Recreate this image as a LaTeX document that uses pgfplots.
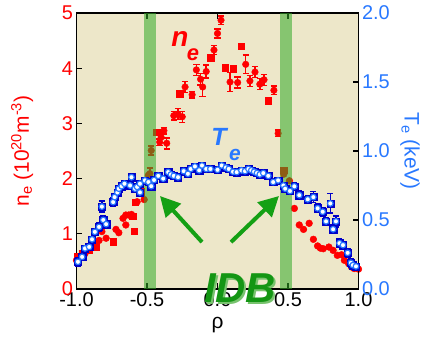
\documentclass[border=0pt]{standalone}
\usepackage{pgfplots}
\usepackage{pgfplotstable}
\pgfplotsset{compat=1.18}
\usepackage{fontspec}
\setmainfont{Liberation Sans}
\usetikzlibrary{arrows.meta}
\definecolor{bgc}{RGB}{237,231,201}
\definecolor{necol}{RGB}{255,0,0}
\definecolor{tecol}{RGB}{40,120,255}
\definecolor{tedark}{RGB}{0,0,200}
\definecolor{bandc}{RGB}{50,170,40}
\definecolor{idbc}{RGB}{20,150,20}
\definecolor{idbsh}{RGB}{120,195,110}
\definecolor{arrc}{RGB}{20,160,20}

% n_e points with error bars (rho, ne, err)
\pgfplotstableread{
x y e
0.025 4.87 0.08
0.0 4.63 0.08
-0.025 4.33 0.08
0.2 4.07 0.17
0.089 3.75 0.17
0.143 3.74 0.10
0.23 3.77 0.10
0.266 3.93 0.10
0.30 3.71 0.10
0.33 3.79 0.10
0.40 3.60 0.08
-0.15 3.97 0.10
-0.08 3.94 0.12
-0.12 3.80 0.10
-0.105 3.66 0.17
-0.23 3.66 0.10
-0.18 3.52 0.06
-0.31 3.14 0.08
-0.28 3.17 0.10
-0.25 3.12 0.10
-0.38 2.87 0.06
-0.40 2.75 0.10
-0.36 2.64 0.10
-0.41 2.66 0.06
-0.47 2.51 0.08
-0.48 2.09 0.10
0.43 2.82 0.06
}\neerr
% n_e square markers
\pgfplotstableread{
x y
-0.05 4.19
0.167 4.40
0.055 4.01
0.112 3.99
0.36 3.41
-0.27 3.54
-0.43 2.84
-0.54 1.76
-0.585 1.57
-0.59 1.05
-0.60 1.32
-0.74 0.86
-0.86 0.77
-0.91 0.70
-0.96 0.64
-0.99 0.58
0.47 2.15
}\nesq
% n_e circle markers
\pgfplotstableread{
x y
-0.49 2.06
-0.52 1.62
-0.57 1.58
-0.61 1.35
-0.63 1.34
-0.65 1.34
-0.67 1.28
-0.65 1.16
-0.72 1.08
-0.70 1.02
-0.79 0.92
-0.82 1.04
-0.84 0.88
-0.87 0.83
-0.90 0.78
-0.93 0.70
-0.94 0.64
-0.98 0.58
-1.0 0.52
0.47 2.08
0.51 1.96
0.545 1.46
0.58 1.16
0.61 1.08
0.65 1.19
0.68 0.90
0.71 0.78
0.73 0.74
0.75 0.73
0.79 0.76
0.82 0.70
0.85 0.61
0.88 0.62
0.90 0.52
0.93 0.46
0.95 0.40
0.97 0.37
1.0 0.36
}\necirc
% T_e (rho, Te, err)
\pgfplotstableread{
x y e
-0.99 0.197 0.03
-0.96 0.233 0.02
-0.94 0.294 0.02
-0.91 0.305 0.02
-0.89 0.36 0.02
-0.87 0.414 0.02
-0.84 0.45 0.03
-0.81 0.50 0.03
-0.79 0.47 0.02
-0.82 0.597 0.04
-0.74 0.63 0.03
-0.73 0.666 0.02
-0.71 0.70 0.02
-0.70 0.727 0.02
-0.68 0.745 0.02
-0.66 0.763 0.02
-0.62 0.75 0.02
-0.61 0.81 0.02
-0.585 0.727 0.02
-0.57 0.74 0.02
-0.55 0.70 0.02
-0.55 0.763 0.02
-0.515 0.787 0.02
-0.49 0.775 0.02
-0.47 0.745 0.02
-0.45 0.79 0.02
-0.42 0.82 0.02
-0.385 0.80 0.02
-0.35 0.847 0.02
-0.33 0.83 0.02
-0.31 0.82 0.02
-0.28 0.81 0.02
-0.24 0.854 0.02
-0.21 0.835 0.02
-0.19 0.87 0.02
-0.16 0.888 0.02
-0.13 0.86 0.02
-0.11 0.895 0.02
-0.08 0.87 0.02
-0.05 0.87 0.02
0.0 0.864 0.02
0.03 0.895 0.02
0.06 0.88 0.02
0.08 0.87 0.02
0.11 0.85 0.02
0.136 0.847 0.02
0.17 0.86 0.02
0.195 0.854 0.02
0.22 0.87 0.02
0.24 0.86 0.02
0.26 0.85 0.02
0.28 0.84 0.02
0.30 0.83 0.02
0.325 0.84 0.02
0.36 0.82 0.02
0.395 0.775 0.02
0.43 0.787 0.02
0.467 0.75 0.02
0.48 0.727 0.02
0.514 0.71 0.02
0.545 0.744 0.03
0.58 0.68 0.03
0.64 0.65 0.03
0.68 0.666 0.04
0.71 0.585 0.03
0.746 0.56 0.03
0.77 0.49 0.03
0.80 0.62 0.07
0.82 0.433 0.03
0.84 0.49 0.04
0.865 0.332 0.03
0.89 0.318 0.02
0.923 0.262 0.03
0.946 0.19 0.03
0.96 0.173 0.02
0.982 0.164 0.02
}\tedata

\begin{document}
\begin{tikzpicture}
\begin{axis}[name=ax, scale only axis, width=282bp, height=276bp,
  xmin=-1, xmax=1, ymin=0, ymax=5,
  axis background/.style={fill=bgc},
  axis line style={line width=1.6bp},
  xtick={-1,-0.5,0,0.5,1}, ytick={0,1,2,3,4,5},
  tick align=inside, major tick length=6bp,
  ytick pos=left, xtick pos=both,
  tick style={black, line width=1.2bp},
  /pgf/number format/assume math mode=true,
  xticklabel style={font=\fontsize{20}{20}\selectfont, /pgf/number format/fixed, /pgf/number format/fixed zerofill, /pgf/number format/precision=1},
  yticklabel style={font=\fontsize{20}{20}\selectfont, text=necol},
  xlabel={ρ}, xlabel style={font=\fontsize{21}{21}\selectfont, at={(rel axis cs:0.5,-0.13)}, anchor=center},
  ylabel={n\textsubscript{e} (10\textsuperscript{20}m\textsuperscript{-3})},
  ylabel style={font=\fontsize{21}{21}\selectfont, text=necol, at={(rel axis cs:-0.193,0.5)}, anchor=center},
]
\addplot[only marks, mark=*, mark size=3.3bp, color=necol,
  error bars/.cd, y dir=both, y explicit,
  error bar style={line width=1.5bp, color=necol},
  error mark options={rotate=90, mark size=3.2bp, line width=1.5bp, color=necol}]
  table[x=x, y=y, y error=e] {\neerr};
\addplot[only marks, mark=square*, mark size=3.3bp, color=necol] table[x=x, y=y] {\nesq};
\addplot[only marks, mark=*, mark size=3.4bp, color=necol] table[x=x, y=y] {\necirc};
\end{axis}
\begin{axis}[scale only axis, width=282bp, height=276bp,
  xmin=-1, xmax=1, ymin=0, ymax=2, clip=false,
  axis x line=none, axis y line*=right,
  axis line style={line width=1.6bp},
  ytick={0,0.5,1,1.5,2},
  tick align=inside, major tick length=6bp,
  tick style={black, line width=1.2bp},
  /pgf/number format/assume math mode=true,
  yticklabel style={font=\fontsize{20}{20}\selectfont, text=tecol, /pgf/number format/fixed, /pgf/number format/fixed zerofill, /pgf/number format/precision=1},
]
\addplot[only marks, mark=square*, mark size=3.6bp, color=tedark,
  error bars/.cd, y dir=both, y explicit,
  error bar style={line width=1.3bp, color=tedark},
  error mark options={rotate=90, mark size=3bp, line width=1.3bp, color=tedark}]
  table[x=x, y=y, y error=e] {\tedata};
\addplot[only marks, mark=*, mark size=2.8bp, mark options={fill=white, draw=tecol, line width=1.2bp}] table[x=x, y=y] {\tedata};
\fill[bandc, opacity=0.55] (axis cs:-0.52,0) rectangle (axis cs:-0.435,2);
\fill[bandc, opacity=0.55] (axis cs:0.445,0) rectangle (axis cs:0.53,2);
\node[rotate=-90, text=tecol, font=\fontsize{21}{21}\selectfont] at (rel axis cs:1.183,0.5) {T\textsubscript{e} (keV)};
\node[text=necol, font=\fontsize{28}{28}\selectfont\bfseries\itshape] at (rel axis cs:0.367,0.905) {n};
\node[text=necol, font=\fontsize{22}{22}\selectfont\bfseries\itshape] at (rel axis cs:0.413,0.85) {e};
\node[text=tecol, font=\fontsize{25}{25}\selectfont\bfseries\itshape] at (rel axis cs:0.505,0.551) {T};
\node[text=tecol, font=\fontsize{21}{21}\selectfont\bfseries\itshape] at (rel axis cs:0.562,0.486) {e};
\draw[arrc, line width=4bp, -{Triangle[length=20bp, width=20bp]}] (rel axis cs:0.445,0.170) -- (rel axis cs:0.296,0.337);
\draw[arrc, line width=4bp, -{Triangle[length=20bp, width=20bp]}] (rel axis cs:0.548,0.170) -- (rel axis cs:0.718,0.337);
\node[text=idbsh, font=\fontsize{42}{42}\selectfont\bfseries\itshape] at ([shift={(2bp,-2bp)}]rel axis cs:0.580,0.004) {IDB};
\node[text=idbc, font=\fontsize{42}{42}\selectfont\bfseries\itshape] at (rel axis cs:0.580,0.004) {IDB};
\end{axis}
\pgfresetboundingbox
\path[use as bounding box] ([shift={(-76.5bp,-57bp)}]ax.south west) rectangle ([shift={(73.5bp,13bp)}]ax.north east);
\end{tikzpicture}
\end{document}
